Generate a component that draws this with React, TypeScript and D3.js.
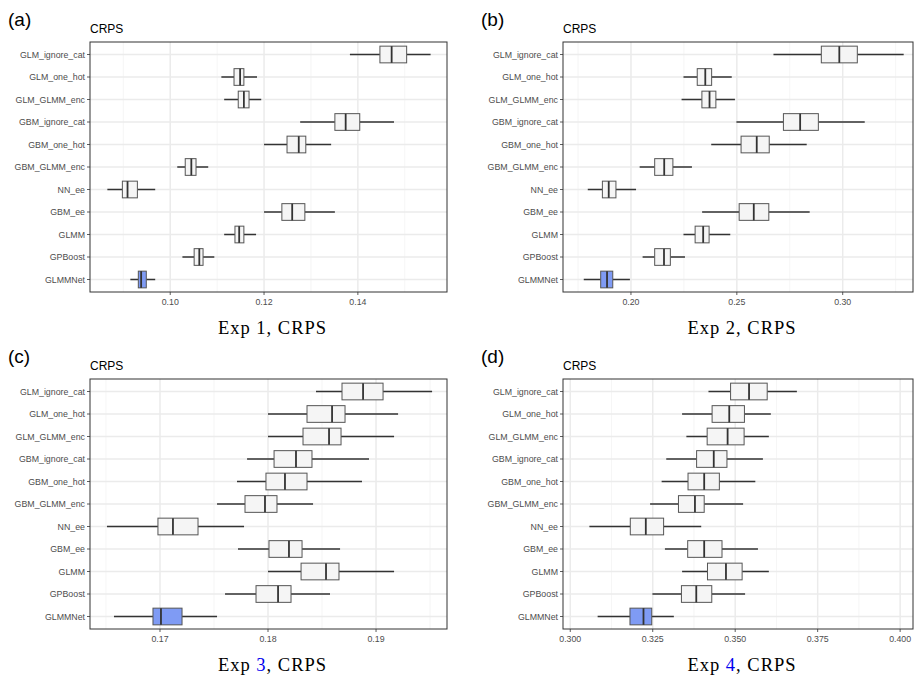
import * as d3 from 'd3';

const models = [
  'GLM_ignore_cat', 'GLM_one_hot', 'GLM_GLMM_enc', 'GBM_ignore_cat', 'GBM_one_hot',
  'GBM_GLMM_enc', 'NN_ee', 'GBM_ee', 'GLMM', 'GPBoost', 'GLMMNet',
];

// [lowWhisker, q1, median, q3, highWhisker] per model
const exp1 = [
  [0.1383, 0.1447, 0.1472, 0.1504, 0.1555],
  [0.1109, 0.1136, 0.1149, 0.1157, 0.1185],
  [0.1115, 0.1145, 0.1157, 0.1168, 0.1194],
  [0.1277, 0.1351, 0.1374, 0.1404, 0.1477],
  [0.1200, 0.1249, 0.1274, 0.1289, 0.1343],
  [0.1015, 0.1032, 0.1045, 0.1055, 0.1081],
  [0.0866, 0.0898, 0.0909, 0.0930, 0.0968],
  [0.1200, 0.1238, 0.1260, 0.1287, 0.1351],
  [0.1115, 0.1138, 0.1147, 0.1157, 0.1183],
  [0.1026, 0.1051, 0.1062, 0.1070, 0.1094],
  [0.0915, 0.0932, 0.0938, 0.0949, 0.0968],
];
const exp2 = [
  [0.2673, 0.2899, 0.2984, 0.3069, 0.3288],
  [0.2248, 0.2313, 0.2351, 0.2381, 0.2476],
  [0.2239, 0.2335, 0.2371, 0.2401, 0.2491],
  [0.2498, 0.2720, 0.2799, 0.2885, 0.3104],
  [0.2379, 0.2520, 0.2594, 0.2653, 0.2830],
  [0.2041, 0.2112, 0.2157, 0.2198, 0.2288],
  [0.1796, 0.1865, 0.1895, 0.1929, 0.2024],
  [0.2336, 0.2511, 0.2580, 0.2651, 0.2844],
  [0.2248, 0.2303, 0.2341, 0.2369, 0.2469],
  [0.2055, 0.2112, 0.2156, 0.2186, 0.2255],
  [0.1777, 0.1857, 0.1887, 0.1914, 0.1995],
];
const exp3 = [
  [0.18444, 0.18685, 0.18880, 0.19065, 0.19519],
  [0.18000, 0.18361, 0.18593, 0.18713, 0.19204],
  [0.18000, 0.18324, 0.18565, 0.18676, 0.19167],
  [0.17806, 0.18056, 0.18259, 0.18407, 0.18935],
  [0.17713, 0.17981, 0.18157, 0.18361, 0.18870],
  [0.17528, 0.17787, 0.17972, 0.18083, 0.18417],
  [0.16509, 0.16981, 0.17120, 0.17352, 0.17778],
  [0.17722, 0.18009, 0.18194, 0.18315, 0.18667],
  [0.18000, 0.18306, 0.18537, 0.18657, 0.19167],
  [0.17602, 0.17889, 0.18093, 0.18213, 0.18574],
  [0.16574, 0.16935, 0.17009, 0.17204, 0.17528],
];
const exp4 = [
  [0.3419, 0.3486, 0.3542, 0.3597, 0.3687],
  [0.3339, 0.3430, 0.3482, 0.3528, 0.3608],
  [0.3352, 0.3415, 0.3477, 0.3527, 0.3602],
  [0.3291, 0.3383, 0.3435, 0.3475, 0.3584],
  [0.3277, 0.3357, 0.3406, 0.3452, 0.3561],
  [0.3242, 0.3328, 0.3378, 0.3406, 0.3524],
  [0.3058, 0.3182, 0.3229, 0.3283, 0.3397],
  [0.3287, 0.3356, 0.3406, 0.3460, 0.3569],
  [0.3339, 0.3416, 0.3472, 0.3521, 0.3602],
  [0.3249, 0.3337, 0.3382, 0.3429, 0.3530],
  [0.3083, 0.3181, 0.3222, 0.3247, 0.3314],
];

const panels = [
  { tag: '(a)', exp: '1', link: false, data: exp1, domain: [0.0829, 0.1590], ticks: [0.10, 0.12, 0.14], minor: [0.09, 0.11, 0.13, 0.15], fmt: '.2f', x0: 90, x1: 447, top: 42 },
  { tag: '(b)', exp: '2', link: false, data: exp2, domain: [0.1679, 0.3332], ticks: [0.20, 0.25, 0.30], minor: [0.175, 0.225, 0.275, 0.325], fmt: '.2f', x0: 563, x1: 913, top: 42 },
  { tag: '(c)', exp: '3', link: true, data: exp3, domain: [0.16352, 0.19657], ticks: [0.17, 0.18, 0.19], minor: [0.165, 0.175, 0.185, 0.195], fmt: '.2f', x0: 90, x1: 447, top: 379 },
  { tag: '(d)', exp: '4', link: true, data: exp4, domain: [0.2978, 0.4039], ticks: [0.300, 0.325, 0.350, 0.375, 0.400], minor: [0.3125, 0.3375, 0.3625, 0.3875], fmt: '.3f', x0: 563, x1: 913, top: 379 },
];

const plotH = 250;
const sans = 'Liberation Sans, Arial, sans-serif';

const Panel = ({ p }: { p: (typeof panels)[number] }) => {
  const x = d3.scaleLinear().domain(p.domain).range([p.x0, p.x1]);
  const y = d3.scalePoint().domain(models).range([p.top + 12.5, p.top + plotH - 12.5]);
  const bh = 16.7;
  const bottom = p.top + plotH;
  return (
    <g>
      <text x={p.x0 - 82} y={p.top - 16} fontSize={19} fontFamily={sans}>{p.tag}</text>
      <text x={p.x0} y={p.top - 9} fontSize={12} fontFamily={sans}>CRPS</text>
      <rect x={p.x0} y={p.top} width={p.x1 - p.x0} height={plotH} fill="white" />
      {p.minor.map((t) => (
        <line key={'m' + t} x1={x(t)} x2={x(t)} y1={p.top} y2={bottom} stroke="#f0f0f0" strokeWidth={0.7} />
      ))}
      {p.ticks.map((t) => (
        <line key={'t' + t} x1={x(t)} x2={x(t)} y1={p.top} y2={bottom} stroke="#ebebeb" strokeWidth={1.5} />
      ))}
      {models.map((m) => (
        <line key={'g' + m} x1={p.x0} x2={p.x1} y1={y(m)} y2={y(m)} stroke="#ebebeb" strokeWidth={1.5} />
      ))}
      {models.map((m, i) => {
        const [lo, q1, med, q3, hi] = p.data[i];
        const cy = y(m)!;
        const fill = m === 'GLMMNet' ? '#7f9bf4' : '#f5f5f5';
        return (
          <g key={m}>
            <line x1={x(lo)} x2={x(q1)} y1={cy} y2={cy} stroke="#333" strokeWidth={1.5} />
            <line x1={x(q3)} x2={x(hi)} y1={cy} y2={cy} stroke="#333" strokeWidth={1.5} />
            <rect x={x(q1)} y={cy - bh / 2} width={x(q3) - x(q1)} height={bh} fill={fill} stroke="#555" strokeWidth={1} />
            <line x1={x(med)} x2={x(med)} y1={cy - bh / 2} y2={cy + bh / 2} stroke="#333" strokeWidth={1.8} />
            <line x1={p.x0 - 3} x2={p.x0} y1={cy} y2={cy} stroke="#333" strokeWidth={0.8} />
            <text x={p.x0 - 5} y={cy} dy="0.35em" textAnchor="end" fontSize={8.8} fill="#4d4d4d" fontFamily={sans}>{m}</text>
          </g>
        );
      })}
      <rect x={p.x0} y={p.top} width={p.x1 - p.x0} height={plotH} fill="none" stroke="#333" strokeWidth={1} />
      {p.ticks.map((t) => (
        <g key={'l' + t}>
          <line x1={x(t)} x2={x(t)} y1={bottom} y2={bottom + 3} stroke="#333" strokeWidth={0.8} />
          <text x={x(t)} y={bottom + 13} textAnchor="middle" fontSize={8.8} fill="#4d4d4d" fontFamily={sans}>{d3.format(p.fmt)(t)}</text>
        </g>
      ))}
      <text x={(p.x0 + p.x1) / 2 + 4} y={bottom + 42} textAnchor="middle" fontSize={18.5} letterSpacing={1} fontFamily="Liberation Serif, Times New Roman, serif">
        Exp <tspan fill={p.link ? '#0000ee' : 'black'}>{p.exp}</tspan>, CRPS
      </text>
    </g>
  );
};

export default function App() {
  return (
    <svg width={915} height={677} style={{ position: 'absolute', left: 0, top: 0, background: 'white' }}>
      {panels.map((p) => (
        <Panel key={p.tag} p={p} />
      ))}
    </svg>
  );
}
